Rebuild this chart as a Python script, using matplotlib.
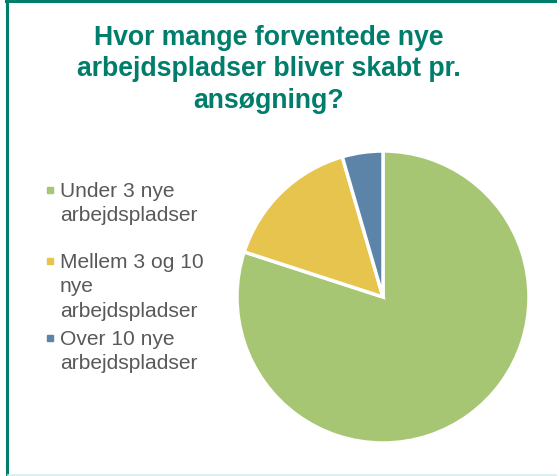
import matplotlib
matplotlib.use("Agg")
import matplotlib.pyplot as plt
from matplotlib.patches import Rectangle
from matplotlib.lines import Line2D

categories = ["Under 3 nye\narbejdspladser",
              "Mellem 3 og 10\nnye\narbejdspladser",
              "Over 10 nye\narbejdspladser"]
values = [80.0, 15.5, 4.5]
colors = ["#A7C673", "#E6C44E", "#5C84A8"]
title = "Hvor mange forventede nye\narbejdspladser bliver skabt pr.\nansøgning?"

W, H = 557, 477
fig = plt.figure(figsize=(W / 100, H / 100), dpi=100)
plt.rcParams['font.family'] = ['Liberation Sans', 'DejaVu Sans']

# border
teal = "#007D6B"
fig.add_artist(Line2D([7 / W, 7 / W], [0, 1 - 1 / H], color=teal, lw=2.2, transform=fig.transFigure))
fig.add_artist(Line2D([6 / W, 1], [1 - 2 / H, 1 - 2 / H], color=teal, lw=2.2, transform=fig.transFigure))
fig.add_artist(Line2D([8 / W, 1], [0.7 / H, 0.7 / H], color="#D5EEEA", lw=1.2, transform=fig.transFigure))

fig.text(269 / W, 1 - 69.5 / H, title, ha="center", va="center", fontsize=19.2,
         fontweight="bold", color="#007D6B", linespacing=1.27)

# pie
cx, cy, r = 383, 298, 146
ax = fig.add_axes([(cx - r) / W, 1 - (cy + r) / H, 2 * r / W, 2 * r / H])
ax.pie(values, colors=colors, startangle=90, counterclock=False,
       wedgeprops=dict(edgecolor="white", linewidth=2.5))
ax.set_aspect("equal")
ax.set_xlim(-1, 1)
ax.set_ylim(-1, 1)

# legend (first-line baselines in pixels)
legend_base = [197, 268, 345]
step = 24.5
for lab, col, yb in zip(categories, colors, legend_base):
    fig.add_artist(Rectangle((47 / W, 1 - (yb - 3) / H), 6 / W, 6 / H, color=col,
                             transform=fig.transFigure))
    for i, line in enumerate(lab.split("\n")):
        fig.text(60 / W, 1 - (yb + i * step) / H, line, ha="left", va="baseline",
                 fontsize=15.1, color="#595959")

fig.savefig("out.png", dpi=100)
